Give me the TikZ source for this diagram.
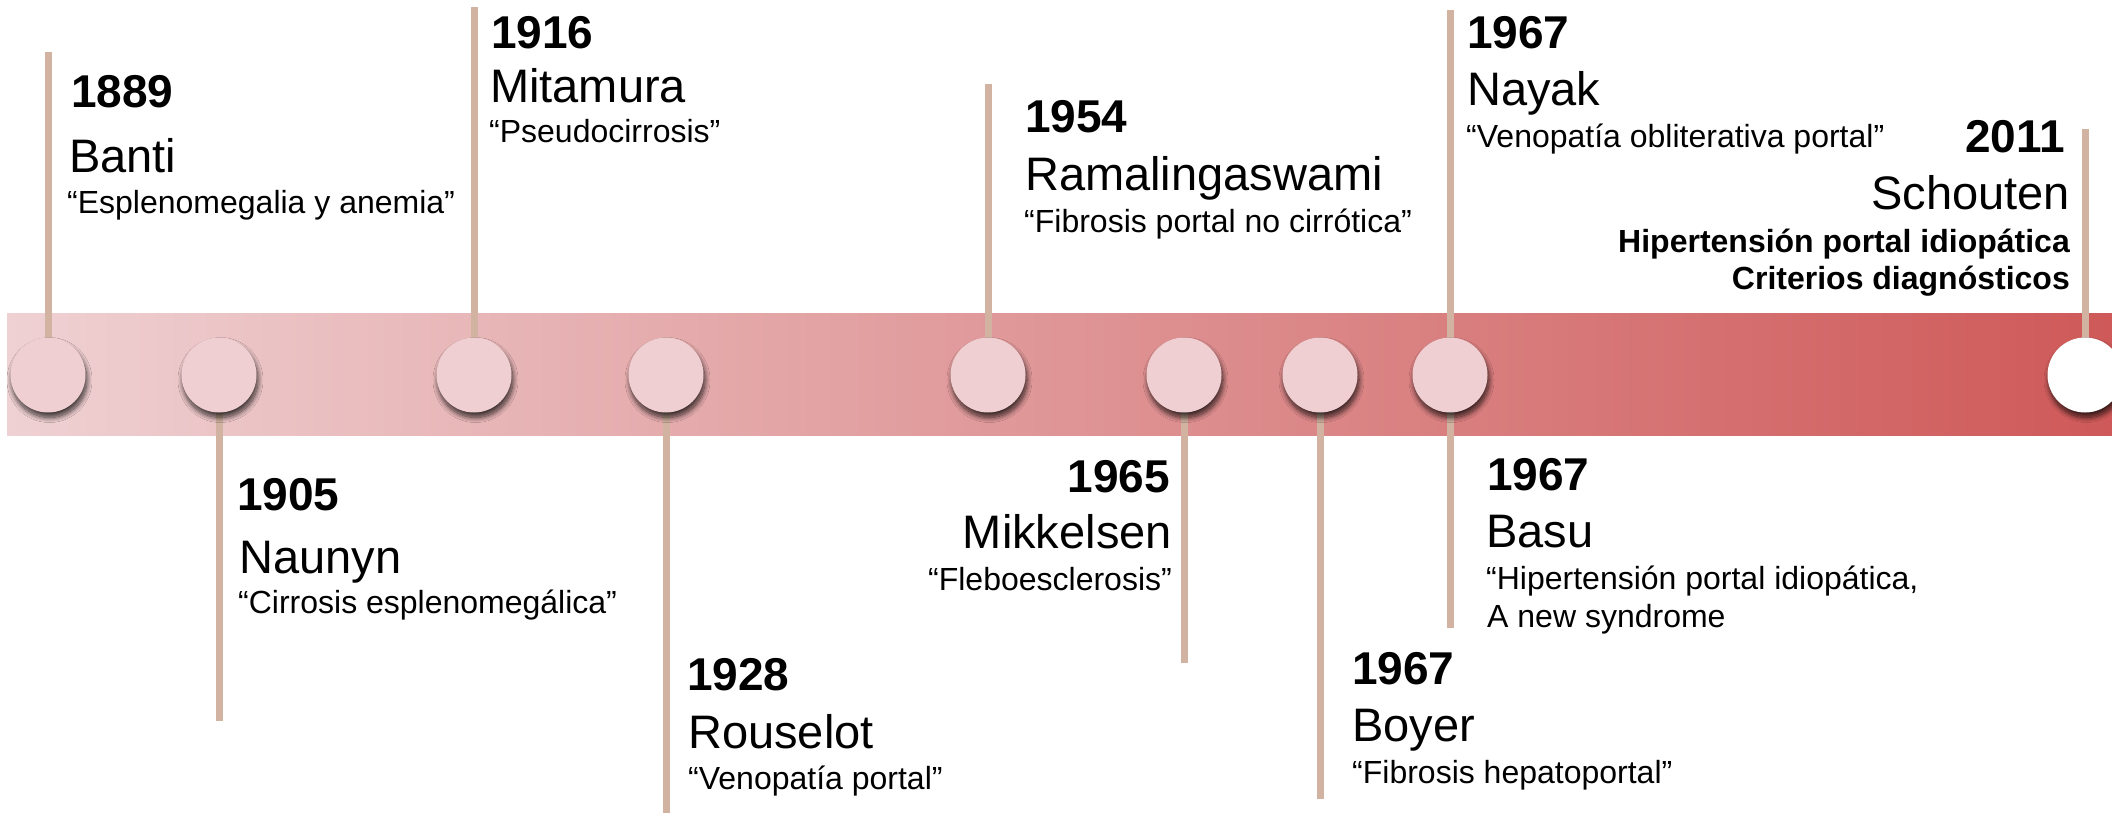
\documentclass[tikz,border=0pt]{standalone}
\usepackage{fontspec}
\setmainfont{Liberation Sans}
\usetikzlibrary{shadows.blur}
\definecolor{stem}{RGB}{210,178,160}
\definecolor{bandL}{RGB}{239,209,211}
\definecolor{bandR}{RGB}{207,89,89}
\definecolor{dotfill}{RGB}{239,207,209}
\begin{document}
\begin{tikzpicture}[x=1pt,y=-1pt,
  yr/.style={font=\fontsize{46}{50}\selectfont\bfseries, inner sep=0pt},
  nm/.style={font=\fontsize{47}{50}\selectfont, inner sep=0pt},
  qt/.style={font=\fontsize{32}{38}\selectfont, inner sep=0pt},
  sb/.style={font=\fontsize{32}{38}\selectfont\bfseries, inner sep=0pt},
  stemline/.style={draw=stem, line width=7pt},
  dot/.style={circle, minimum size=75pt, inner sep=0pt, fill=dotfill,
    blur shadow={shadow xshift=1.5pt, shadow yshift=-5pt, shadow blur radius=5pt, shadow opacity=75, shadow blur steps=12}},
  lastdot/.style={dot, fill=white}]
\useasboundingbox (0,0) rectangle (2112,814);
\fill[white] (0,0) rectangle (2112,814);
% band
\fill[left color=bandL, right color=bandR] (7,313) rectangle (2112,435);
% circle centres
\coordinate (p1) at (48,375);
\coordinate (p2) at (219,375);
\coordinate (p3) at (474,375);
\coordinate (p4) at (666,375);
\coordinate (p5) at (988,375);
\coordinate (p6) at (1184,375);
\coordinate (p7) at (1320,375);
\coordinate (p8) at (1450,375);
\coordinate (p9) at (2085,375);
% stem ends
\coordinate (t1) at (48,52);
\coordinate (t2) at (219,721);
\coordinate (t3) at (474,7);
\coordinate (t4) at (666,813);
\coordinate (t5) at (988,84);
\coordinate (t6) at (1184,663);
\coordinate (t7) at (1320,799);
\coordinate (t8) at (1450,10);
\coordinate (t8b) at (1450,628);
\coordinate (t9) at (2085,129);
\foreach \a/\b in {t1/p1,t2/p2,t3/p3,t4/p4,t5/p5,t6/p6,t7/p7,t8/p8,t8b/p8,t9/p9}
  \draw[stemline] (\a) -- (\b);
% circles
\foreach \i in {1,...,8} \node[dot] (c\i) at (p\i) {};
\node[lastdot] (c9) at (p9) {};
% 1889
\node[yr, anchor=base west] (y1) at (71,107) {1889};
\node[nm, anchor=base west] (n1) at (69,172) {Banti};
\node[qt, anchor=base west] (q1) at (67,213) {“Esplenomegalia y anemia”};
% 1916
\node[yr, anchor=base west] (y3) at (491,48) {1916};
\node[nm, anchor=base west] (n3) at (490,102) {Mitamura};
\node[qt, anchor=base west] (q3) at (489,142) {“Pseudocirrosis”};
% 1905
\node[yr, anchor=base west] (y2) at (237,510) {1905};
\node[nm, anchor=base west] (n2) at (239,573) {Naunyn};
\node[qt, anchor=base west] (q2) at (238,613) {“Cirrosis esplenomegálica”};
% 1928
\node[yr, anchor=base west] (y4) at (687,690) {1928};
\node[nm, anchor=base west] (n4) at (688,748) {Rouselot};
\node[qt, anchor=base west] (q4) at (688,789) {“Venopatía portal”};
% 1954
\node[yr, anchor=base west] (y5) at (1025,132) {1954};
\node[nm, anchor=base west] (n5) at (1025,190) {Ramalingaswami};
\node[qt, anchor=base west] (q5) at (1024,232) {“Fibrosis portal no cirrótica”};
% 1967 Nayak
\node[yr, anchor=base west] (y8) at (1467,48) {1967};
\node[nm, anchor=base west] (n8) at (1467,105) {Nayak};
\node[qt, anchor=base west] (q8) at (1466,147) {“Venopatía obliterativa portal”};
% 2011
\node[yr, anchor=base east] (y9) at (2065,152) {2011};
\node[nm, anchor=base east] (n9) at (2070,209) {Schouten};
\node[sb, anchor=base east] (s9a) at (2070,252) {Hipertensión portal idiopática};
\node[sb, anchor=base east] (s9b) at (2070,289) {Criterios diagnósticos};
% 1965
\node[yr, anchor=base east] (y6) at (1170,492) {1965};
\node[nm, anchor=base east] (n6) at (1172,548) {Mikkelsen};
\node[qt, anchor=base east] (q6) at (1172,590) {“Fleboesclerosis”};
% 1967 Basu
\node[yr, anchor=base west] (y8b) at (1487,490) {1967};
\node[nm, anchor=base west] (n8b) at (1486,547) {Basu};
\node[qt, anchor=base west] (q8b) at (1486,589) {“Hipertensión portal idiopática,};
\node[qt, anchor=base west] (q8c) at (1487,627) {A new syndrome};
% 1967 Boyer
\node[yr, anchor=base west] (y7) at (1352,684) {1967};
\node[nm, anchor=base west] (n7) at (1352,741) {Boyer};
\node[qt, anchor=base west] (q7) at (1352,783) {“Fibrosis hepatoportal”};
\end{tikzpicture}
\end{document}
